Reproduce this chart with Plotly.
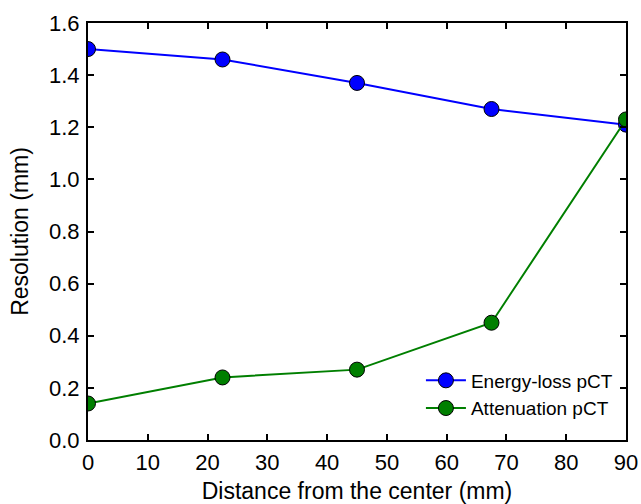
import plotly.graph_objects as go

distance = [0, 22.5, 45, 67.5, 90]
energy_loss = [1.50, 1.46, 1.37, 1.27, 1.21]
attenuation = [0.14, 0.24, 0.27, 0.45, 1.23]

FONT = "Liberation Sans, Arial"

fig = go.Figure()
fig.add_trace(go.Scatter(x=distance, y=energy_loss, mode="lines+markers", name="Energy-loss pCT",
                         line=dict(color="#0000ff", width=2),
                         marker=dict(size=15, color="#0000ff", line=dict(color="black", width=1)),
                         cliponaxis=True))
fig.add_trace(go.Scatter(x=distance, y=attenuation, mode="lines+markers", name="Attenuation pCT",
                         line=dict(color="#007f00", width=2),
                         marker=dict(size=15, color="#007f00", line=dict(color="black", width=1)),
                         cliponaxis=True))

axis_common = dict(showline=True, linecolor="black", linewidth=2, mirror="ticks",
                   ticks="inside", ticklen=6, tickwidth=1.5, tickcolor="black",
                   showgrid=False, zeroline=False, automargin=False,
                   tickfont=dict(family=FONT, size=22, color="black"))

fig.update_layout(
    width=641, height=504,
    paper_bgcolor="white", plot_bgcolor="white",
    margin=dict(l=88, r=15, t=23, b=64),
    font=dict(family=FONT, color="black"),
    xaxis=dict(range=[0, 90], dtick=10, ticklabelstandoff=2,
               title=dict(text="Distance from the center (mm)",
                          font=dict(size=23, family=FONT), standoff=8),
               **axis_common),
    yaxis=dict(range=[0, 1.6], dtick=0.2, tickformat=".1f", ticklabelstandoff=2,
               title=dict(text="Resolution (mm)",
                          font=dict(size=23, family=FONT), standoff=14),
               **axis_common),
    legend=dict(x=0.985, y=0.03, xanchor="right", yanchor="bottom",
                font=dict(size=19, color="black", family=FONT),
                bgcolor="rgba(0,0,0,0)", itemwidth=40, tracegroupgap=2),
    showlegend=True,
)

fig.write_html("out.html", config={"displayModeBar": False},
               post_script="document.body.style.margin='0';document.body.style.overflow='hidden';")
